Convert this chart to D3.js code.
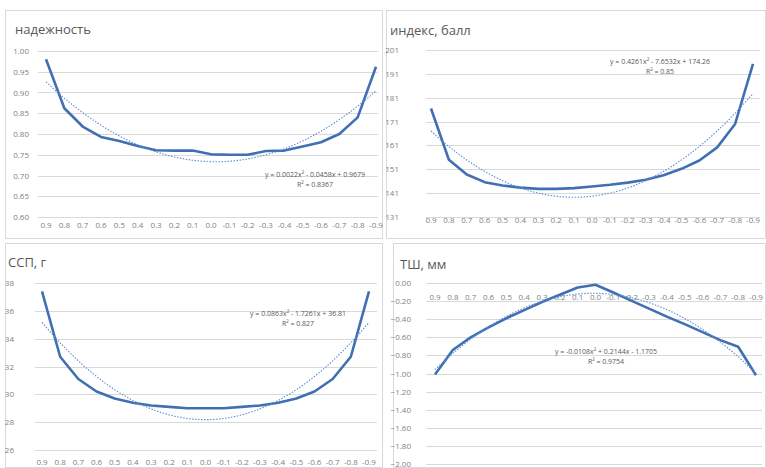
<!DOCTYPE html>
<html>
<head>
<meta charset="utf-8">
<script src="https://cdn.jsdelivr.net/npm/d3@7"></script>
<style>
  body { margin: 0; background: #fff; }
  svg { display: block; font-family: 'Open Sans', 'Liberation Sans', sans-serif; }
</style>
</head>
<body>
<div id="chart"></div>
<script>
// categories (same for all four charts)
var categories = ['0.9', '0.8', '0.7', '0.6', '0.5', '0.4', '0.3', '0.2', '0.1', '0.0',
                  '-0.1', '-0.2', '-0.3', '-0.4', '-0.5', '-0.6', '-0.7', '-0.8', '-0.9'];

// series values
var reliability = [0.98, 0.862, 0.818, 0.793, 0.783, 0.771, 0.761, 0.76, 0.76, 0.751,
                   0.75, 0.75, 0.759, 0.76, 0.77, 0.78, 0.80, 0.84, 0.962];
var indexScore = [176.5, 155, 148.8, 145.6, 144.2, 143.3, 142.8, 142.8, 143.1, 143.8,
                  144.5, 145.4, 146.6, 148.5, 151.2, 154.7, 160.2, 170, 195.2];
var sspValues = [37.4, 32.7, 31.1, 30.2, 29.7, 29.4, 29.2, 29.1, 29.0, 29.0,
                 29.0, 29.1, 29.2, 29.4, 29.7, 30.2, 31.1, 32.7, 37.4];
var tshValues = [-1.01, -0.74, -0.60, -0.49, -0.39, -0.30, -0.21, -0.13, -0.05, -0.02,
                 -0.105, -0.195, -0.283, -0.371, -0.455, -0.543, -0.631, -0.705, -1.02];

// axis ticks
var ticksReliability = [0.60, 0.65, 0.70, 0.75, 0.80, 0.85, 0.90, 0.95, 1.00];
var ticksIndex = [131, 141, 151, 161, 171, 181, 191, 201];
var ticksSsp = [26, 28, 30, 32, 34, 36, 38];
var ticksTsh = [0, -0.2, -0.4, -0.6, -0.8, -1.0, -1.2, -1.4, -1.6, -1.8, -2.0];

// titles and trendline labels
var titles = ['надежность', 'индекс, балл', 'ССП, г', 'ТШ, мм'];
var equations = ['y = 0.0022x² - 0.0458x + 0.9679', 'y = 0.4261x² - 7.6532x + 174.26',
                 'y = 0.0863x² - 1.7261x + 36.81', 'y = -0.0108x² + 0.2144x - 1.1705'];
var rSquared = ['R² = 0.8367', 'R² = 0.85', 'R² = 0.827', 'R² = 0.9754'];

const W = 766, H = 468;
var svg = d3.select('#chart').append('svg')
            .attr('width', W)
            .attr('height', H);

// quadratic least squares fit (x = 1..n), same as an excel poly trendline
function polyFit(vals) {
    var s = [0, 0, 0, 0, 0], t = [0, 0, 0];
    vals.forEach((v, i) => {
        var x = i + 1;
        for (var k = 0; k < 5; k++) s[k] += Math.pow(x, k);
        for (var k = 0; k < 3; k++) t[k] += v * Math.pow(x, k);
    });
    var A = [[s[0], s[1], s[2], t[0]], [s[1], s[2], s[3], t[1]], [s[2], s[3], s[4], t[2]]];
    for (var i = 0; i < 3; i++) {
        for (var j = i + 1; j < 3; j++) {
            var f = A[j][i] / A[i][i];
            for (var k = i; k < 4; k++) A[j][k] -= f * A[i][k];
        }
    }
    var c = [0, 0, 0];
    for (var i = 2; i >= 0; i--) {
        var sum = A[i][3];
        for (var k = i + 1; k < 3; k++) sum -= A[i][k] * c[k];
        c[i] = sum / A[i][i];
    }
    return c; // c0 + c1 x + c2 x^2
}

var panels = [
    {vals: reliability, ticks: ticksReliability, fmt: d3.format('.2f'),
     frame: [5, 10, 382, 238], gx: [38, 378], px: [46, 376], py: [217, 51], tickRight: 29, xLabY: 228,
     title: [15, 34], eq: [315, 177]},
    {vals: indexScore, ticks: ticksIndex, fmt: d3.format('d'),
     frame: [386, 10, 765, 238], gx: [426, 760], px: [431, 753], py: [217, 50], tickRight: 399, xLabY: 223,
     title: [390, 35], eq: [660, 64]},
    {vals: sspValues, ticks: ticksSsp, fmt: d3.format('d'),
     frame: [5, 243, 382, 467], gx: [35, 377], px: [42, 369], py: [450, 283], tickRight: 14, xLabY: 465,
     title: [8, 267], eq: [298, 316]},
    {vals: tshValues, ticks: ticksTsh, fmt: d3.format('.2f'),
     frame: [393, 243, 765, 467], gx: [426, 762], px: [435, 756], py: [464, 283], tickRight: 411, xLabY: 300,
     title: [400, 269], eq: [606, 354]}
];

panels.forEach((p, idx) => {
    var g = svg.append('g').attr('class', 'panel');

    // frame
    g.append('rect')
        .attr('x', p.frame[0] + 0.5).attr('y', p.frame[1] + 0.5)
        .attr('width', p.frame[2] - p.frame[0]).attr('height', p.frame[3] - p.frame[1])
        .attr('fill', 'none').attr('stroke', '#d9d9d9');

    var x = d3.scalePoint().domain(categories).range(p.px);
    var y = d3.scaleLinear().domain(d3.extent(p.ticks)).range(p.py);

    // gridlines
    g.selectAll('.grid').data(p.ticks).enter()
        .append('line')
        .attr('x1', p.gx[0]).attr('x2', p.gx[1])
        .attr('y1', d => Math.round(y(d)) + 0.5).attr('y2', d => Math.round(y(d)) + 0.5)
        .attr('stroke', '#d9d9d9').attr('stroke-width', 1);

    // y tick labels
    g.selectAll('.ylab').data(p.ticks).enter()
        .append('text')
        .attr('x', p.tickRight).attr('y', d => y(d) + 3)
        .attr('text-anchor', 'end')
        .style('font-size', '8px').style('fill', '#7f7f7f')
        .text(d => p.fmt(d));

    // x tick labels
    g.selectAll('.xlab').data(categories).enter()
        .append('text')
        .attr('x', d => x(d)).attr('y', p.xLabY)
        .attr('text-anchor', 'middle')
        .style('font-size', '8px').style('fill', '#7f7f7f')
        .text(d => d);

    // title
    g.append('text')
        .attr('x', p.title[0]).attr('y', p.title[1])
        .style('font-size', '13px').style('fill', '#595959')
        .text(titles[idx]);

    // data line
    var line = d3.line().x((d, i) => x(categories[i])).y(d => y(d));
    g.append('path')
        .datum(p.vals)
        .attr('d', line)
        .attr('fill', 'none')
        .attr('stroke', '#4170b2')
        .attr('stroke-width', 2.6)
        .attr('stroke-linejoin', 'round');

    // polynomial trendline
    var c = polyFit(p.vals);
    var xs = d3.scaleLinear().domain([1, categories.length]).range(p.px);
    var trend = d3.range(1, categories.length + 0.001, 0.1);
    g.append('path')
        .datum(trend)
        .attr('d', d3.line().x(t => xs(t)).y(t => y(c[0] + c[1] * t + c[2] * t * t)))
        .attr('fill', 'none')
        .attr('stroke', '#5b8fd6')
        .attr('stroke-width', 1.1)
        .attr('stroke-dasharray', '1.5 1.5');

    // equation labels
    g.append('text')
        .attr('x', p.eq[0]).attr('y', p.eq[1])
        .attr('text-anchor', 'middle')
        .style('font-size', '7px').style('fill', '#595959')
        .text(equations[idx]);
    g.append('text')
        .attr('x', p.eq[0]).attr('y', p.eq[1] + 10)
        .attr('text-anchor', 'middle')
        .style('font-size', '7px').style('fill', '#595959')
        .text(rSquared[idx]);
});
</script>
</body>
</html>
